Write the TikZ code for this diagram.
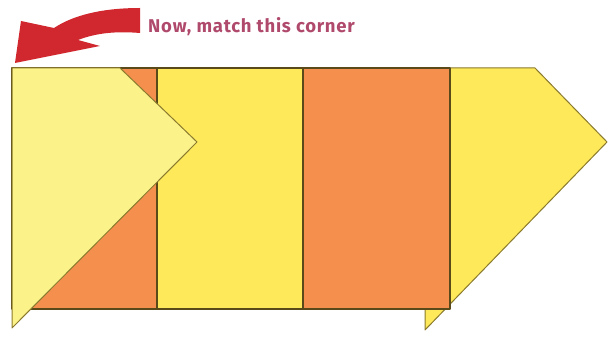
\documentclass[tikz,border=0pt]{standalone}
\usepackage{fontspec}
\newfontfamily\notefont[LetterSpace=4]{Fira Sans}
\usepackage{tikz}
\usetikzlibrary{positioning}
\definecolor{foldOrange}{HTML}{F58F4E}
\definecolor{foldYellow}{HTML}{FDE95A}
\definecolor{foldPale}{HTML}{FBF38A}
\definecolor{foldEdge}{HTML}{5A4A1A}
\definecolor{hintRed}{HTML}{D0282E}
\definecolor{hintText}{HTML}{B04A6C}
\tikzset{
  fold/stripe/.style={draw=foldEdge, line width=1.2pt, line join=round},
  fold/orange/.style={fold/stripe, fill=foldOrange},
  fold/yellow/.style={fold/stripe, fill=foldYellow},
  fold/flap/.style={draw=foldEdge!70!foldYellow, line width=1pt, line join=round},
  hint/arrow/.style={fill=hintRed},
  hint/text/.style={font=\notefont\bfseries\fontsize{18.5}{20}\selectfont, text=hintText, inner sep=0pt}
}
\begin{document}
\begin{tikzpicture}[x=1pt, y=-1pt]
  \useasboundingbox (0,0) rectangle (608,339);

  % right flap, partly under the strip
  \draw[fold/flap, fill=foldYellow] (425,68) -- (535,68) -- (607,142) -- (425,330) -- cycle;

  % the strip
  \draw[fold/orange] (12,68) rectangle (157,309);
  \draw[fold/yellow] (157,68) rectangle (303,309);
  \draw[fold/orange] (303,68) rectangle (450,309);

  % left flap folded over
  \draw[fold/flap, fill=foldPale] (12,68) -- (120,68) -- (197,142) -- (12,328) -- cycle;

  % hint
  \fill[hint/arrow] (140,8) .. controls (100,8) and (72,16) .. (54,28) -- (21,21) -- (15,63)
    -- (100,46) -- (78,40) .. controls (96,33) and (116,31) .. (140,33) -- cycle;
  \node[hint/text, anchor=west] (hint) at (148,27) {Now, match this corner};
\end{tikzpicture}
\end{document}
